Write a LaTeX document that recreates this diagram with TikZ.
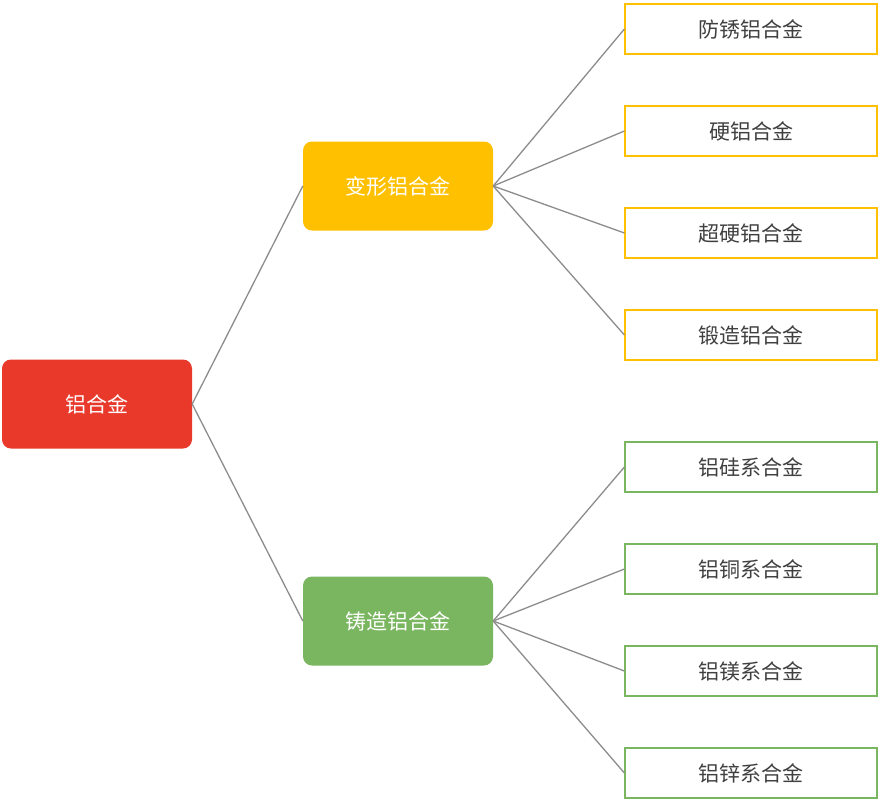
\documentclass[tikz,border=0pt]{standalone}
\usepackage{fontspec}
\setmainfont{Noto Sans CJK SC}
\definecolor{rootred}{HTML}{E8392B}
\definecolor{wrought}{HTML}{FFC000}
\definecolor{cast}{HTML}{7AB660}
\definecolor{linegray}{HTML}{8C8C8C}
\begin{document}
\begin{tikzpicture}[x=1pt,y=-1pt,
  parent/.style={rounded corners=9pt,minimum width=190pt,minimum height=89pt,text=white,font=\fontsize{21}{25}\selectfont,inner sep=0pt},
  leaf/.style={draw=#1,line width=1.2pt,fill=white,minimum width=252pt,minimum height=50pt,text=black!75,font=\fontsize{21}{25}\selectfont,inner sep=0pt},
  link/.style={draw=linegray,line width=1.3pt}]
\useasboundingbox (0,0) rectangle (880,803);

% Main nodes
\node[parent,fill=rootred] (alloy) at (97,404) {铝合金};
\node[parent,fill=wrought] (wrought) at (398,186) {变形铝合金};
\node[parent,fill=cast] (cast) at (398,621) {铸造铝合金};

% Leaves
\node[leaf=wrought] (w1) at (751,29) {防锈铝合金};
\node[leaf=wrought] (w2) at (751,131) {硬铝合金};
\node[leaf=wrought] (w3) at (751,233) {超硬铝合金};
\node[leaf=wrought] (w4) at (751,335) {锻造铝合金};
\node[leaf=cast] (c1) at (751,467) {铝硅系合金};
\node[leaf=cast] (c2) at (751,569) {铝铜系合金};
\node[leaf=cast] (c3) at (751,671) {铝镁系合金};
\node[leaf=cast] (c4) at (751,773) {铝锌系合金};

% Links
\draw[link] (alloy.east) -- (wrought.west);
\draw[link] (alloy.east) -- (cast.west);
\foreach \n in {w1,w2,w3,w4} \draw[link] (wrought.east) -- (\n.west);
\foreach \n in {c1,c2,c3,c4} \draw[link] (cast.east) -- (\n.west);
\end{tikzpicture}
\end{document}
